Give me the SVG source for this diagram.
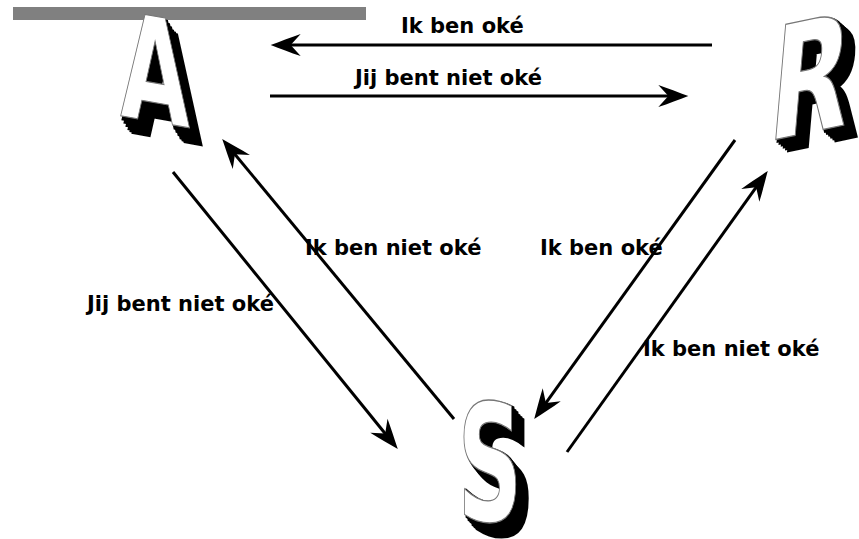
<svg xmlns="http://www.w3.org/2000/svg" xmlns:xlink="http://www.w3.org/1999/xlink" width="859" height="539" viewBox="0 0 859 539">
<style>
.lbl{font-family:"DejaVu Sans","Liberation Sans",sans-serif;font-weight:bold;font-size:21px;fill:#000}
.big{font-family:"DejaVu Sans Condensed","DejaVu Sans","Liberation Sans",sans-serif;font-weight:bold;font-stretch:condensed;font-size:100px}
.ext{fill:#000;stroke:#000;stroke-width:2}
.face{fill:#fff;stroke:#777;stroke-width:0.8}
.conn{stroke:#000;stroke-width:3;fill:none;marker-end:url(#arr)}
</style>
<defs>
<marker id="arr" markerUnits="userSpaceOnUse" orient="auto" refX="0" refY="0" markerWidth="40" markerHeight="30" viewBox="-20 -12 36 24" overflow="visible">
<path d="M12,0 C4,-3 -6,-7 -15,-10 L-6,0 L-15,10 C-6,7 4,3 12,0 Z" fill="#000"/>
</marker>
<text id="gA" class="big" x="0" y="0" text-anchor="middle">A</text>
<text id="gR" class="big" x="0" y="0" text-anchor="middle">R</text>
<text id="gS" class="big" x="0" y="0" text-anchor="middle">S</text>
</defs>
<rect x="13" y="7" width="353" height="13" fill="#808080"/>
<g id="connectors">
<line class="conn" x1="712" y1="45" x2="284" y2="45"/>
<line class="conn" x1="270" y1="96" x2="675" y2="96"/>
<line class="conn" x1="454" y1="419" x2="230.7" y2="149.2"/>
<line class="conn" x1="173" y1="172" x2="389.4" y2="438.7"/>
<line class="conn" x1="735" y1="140" x2="542" y2="408.3"/>
<line class="conn" x1="567" y1="452" x2="760" y2="181.8"/>
</g>
<g id="labels">
<text class="lbl" x="401" y="33">Ik ben oké</text>
<text class="lbl" x="355" y="85">Jij bent niet oké</text>
<text class="lbl" x="305" y="255">Ik ben niet oké</text>
<text class="lbl" x="540" y="255">Ik ben oké</text>
<text class="lbl" x="87" y="311">Jij bent niet oké</text>
<text class="lbl" x="643" y="356">Ik ben niet oké</text>
</g>
<g id="node-A" transform="translate(155,122) skewY(10) scale(1.0,1.45)">
<use xlink:href="#gA" class="ext" x="2" y="2"/>
<use xlink:href="#gA" class="ext" x="4" y="4"/>
<use xlink:href="#gA" class="ext" x="6" y="6"/>
<use xlink:href="#gA" class="ext" x="8" y="8"/>
<use xlink:href="#gA" class="ext" x="10" y="9"/>
<use xlink:href="#gA" class="ext" x="12" y="10"/>
<use xlink:href="#gA" class="face"/>
</g>
<g id="node-R" transform="translate(806,133) skewY(-12) skewX(-5) scale(1.15,1.55)">
<use xlink:href="#gR" class="ext" x="2" y="1.5"/>
<use xlink:href="#gR" class="ext" x="4" y="3"/>
<use xlink:href="#gR" class="ext" x="6" y="4.5"/>
<use xlink:href="#gR" class="ext" x="8" y="6"/>
<use xlink:href="#gR" class="ext" x="10" y="7.5"/>
<use xlink:href="#gR" class="ext" x="12" y="9"/>
<use xlink:href="#gR" class="face"/>
</g>
<g id="node-S" transform="translate(490,521) scale(1.0,1.62)">
<use xlink:href="#gS" class="ext" x="2" y="1.5"/>
<use xlink:href="#gS" class="ext" x="4" y="3"/>
<use xlink:href="#gS" class="ext" x="6" y="4.5"/>
<use xlink:href="#gS" class="ext" x="8" y="6"/>
<use xlink:href="#gS" class="ext" x="10" y="7.5"/>
<use xlink:href="#gS" class="ext" x="12" y="8.5"/>
<use xlink:href="#gS" class="face"/>
</g>
</svg>
